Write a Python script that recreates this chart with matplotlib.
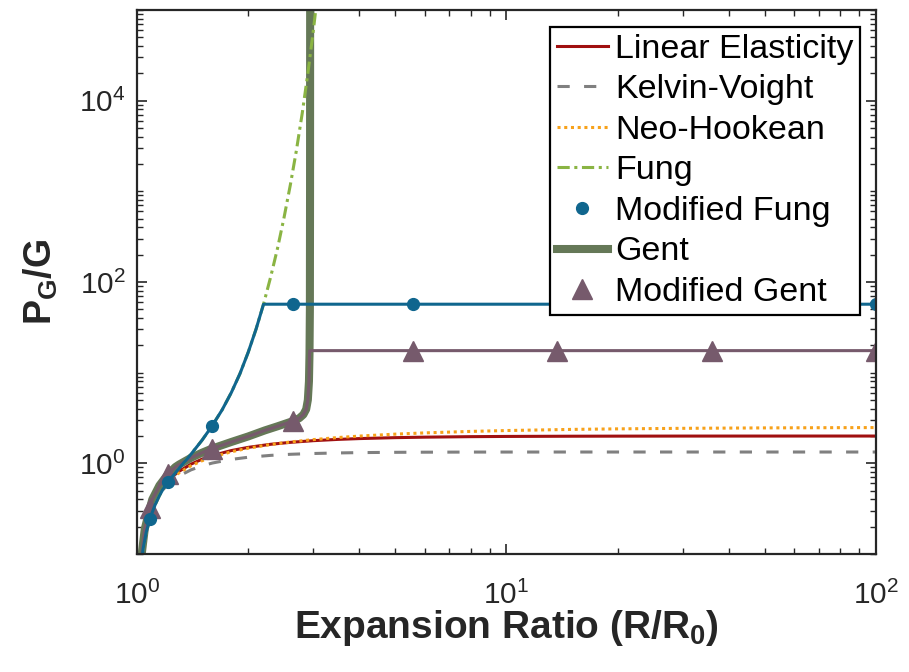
import numpy as np
import matplotlib
matplotlib.use("Agg")
import matplotlib.pyplot as plt
from matplotlib.lines import Line2D
from matplotlib.ticker import LogLocator, NullFormatter

plt.rcParams['font.family'] = 'Liberation Sans'
plt.rcParams['mathtext.fontset'] = 'custom'
plt.rcParams['mathtext.rm'] = 'Liberation Sans'
plt.rcParams['mathtext.it'] = 'Liberation Sans:italic'
plt.rcParams['mathtext.bf'] = 'Liberation Sans:bold'

# ---- expansion ratio grid for the smooth elastic models ----
lam = [1.01, 1.02, 1.03, 1.05, 1.07, 1.1, 1.15, 1.2, 1.25, 1.3, 1.4, 1.5, 1.6,
       1.8, 2.0, 2.3, 2.6, 3.0, 3.5, 4.0, 5.0, 6.0, 8.0, 10, 15, 20, 30, 50, 70, 100]

linear = [0.040, 0.078, 0.115, 0.186, 0.253, 0.347, 0.488, 0.611, 0.720, 0.817,
          0.980, 1.111, 1.219, 1.383, 1.500, 1.622, 1.704, 1.778, 1.837, 1.875,
          1.920, 1.944, 1.969, 1.980, 1.991, 1.995, 1.998, 1.999, 2.0, 2.0]

kelvin = [0.039, 0.077, 0.113, 0.182, 0.245, 0.332, 0.457, 0.562, 0.651, 0.726,
          0.847, 0.938, 1.008, 1.105, 1.167, 1.224, 1.258, 1.284, 1.302, 1.313,
          1.323, 1.327, 1.331, 1.332, 1.333, 1.333, 1.333, 1.333, 1.333, 1.333]

neo = [0.039, 0.077, 0.114, 0.184, 0.249, 0.340, 0.475, 0.592, 0.695, 0.786,
       0.941, 1.068, 1.174, 1.341, 1.469, 1.613, 1.720, 1.827, 1.925, 1.998,
       2.099, 2.166, 2.250, 2.300, 2.367, 2.400, 2.433, 2.460, 2.471, 2.480]

# Fung (unbounded) and modified Fung (capped)
fung_lam = [1.02, 1.03, 1.04, 1.06, 1.084, 1.12, 1.15, 1.2, 1.228, 1.3, 1.4, 1.5,
            1.593, 1.7, 1.8, 1.9, 2.0, 2.1, 2.2, 2.3, 2.4, 2.5, 2.6, 2.7, 2.8,
            2.9, 3.0, 3.05]
fung = [0.058, 0.088, 0.117, 0.176, 0.246, 0.35, 0.44, 0.60, 0.66, 0.88, 1.26,
        1.80, 2.55, 3.89, 6.03, 9.77, 16.8, 30.2, 56.9, 113.5, 234, 513, 1175,
        2818, 7244, 19950, 58900, 104700]

mfung_lam = [1.02, 1.03, 1.04, 1.06, 1.084, 1.12, 1.15, 1.2, 1.228, 1.3, 1.4, 1.5,
             1.593, 1.7, 1.8, 1.9, 2.0, 2.1, 2.2, 100]
mfung = [0.058, 0.088, 0.117, 0.176, 0.246, 0.35, 0.44, 0.60, 0.66, 0.88, 1.26,
         1.80, 2.55, 3.89, 6.03, 9.77, 16.8, 30.2, 56.9, 56.9]

# Gent (locks up near R/R0 ~ 2.94) and modified Gent (capped)
gent_lam = [1.02, 1.03, 1.05, 1.084, 1.1, 1.15, 1.213, 1.27, 1.3, 1.4, 1.5, 1.593,
            1.8, 2.0, 2.22, 2.4, 2.64, 2.75, 2.82, 2.87, 2.90, 2.92, 2.93, 2.937,
            2.94, 2.942]
gent = [0.065, 0.10, 0.19, 0.32, 0.40, 0.57, 0.76, 0.91, 0.97, 1.15, 1.31, 1.45,
        1.72, 1.98, 2.31, 2.56, 2.92, 3.15, 3.45, 3.95, 5.0, 8.0, 16.0, 50.0,
        1000.0, 200000.0]

mgent_lam = [1.02, 1.03, 1.05, 1.084, 1.1, 1.15, 1.213, 1.27, 1.3, 1.4, 1.5, 1.593,
             1.8, 2.0, 2.22, 2.4, 2.64, 2.75, 2.82, 2.87, 2.90, 2.92, 2.93, 2.935, 100]
mgent = [0.065, 0.10, 0.19, 0.32, 0.40, 0.57, 0.76, 0.91, 0.97, 1.15, 1.31, 1.45,
         1.72, 1.98, 2.31, 2.56, 2.92, 3.15, 3.45, 3.95, 5.0, 8.0, 16.0, 17.5, 17.5]

# marker positions shared by the two modified models
mark_lam = [1.084, 1.213, 1.593, 2.64, 5.57, 13.7, 36.0, 100.0]
mfung_mark = [0.246, 0.63, 2.55, 56.9, 56.9, 56.9, 56.9, 56.9]
mgent_mark = [0.32, 0.76, 1.45, 2.92, 17.5, 17.5, 17.5, 17.5]

c_lin = '#A01010'
c_kv = '#808080'
c_neo = '#F7A11A'
c_fung = '#8AB443'
c_mfung = '#10668E'
c_gent = '#657857'
c_mgent = '#765A6C'
c_ax = '#262626'

lw = 2.2
kv_dash = (4.0, 4.7)
neo_dash = (1.0, 1.2)
fung_dash = (4.0, 1.5, 1.0, 1.5)
gent_lw = 5.8

fig = plt.figure(figsize=(9.09, 6.72), dpi=100)
ax = fig.add_axes([0.1507, 0.1756, 0.8130, 0.8095])

ax.plot(lam, kelvin, color=c_kv, lw=lw, dashes=kv_dash)
ax.plot(lam, linear, color=c_lin, lw=lw)
ax.plot(lam, neo, color=c_neo, lw=lw, dashes=neo_dash)
ax.plot(gent_lam, gent, color=c_gent, lw=gent_lw, solid_joinstyle='round')
ax.plot(fung_lam, fung, color=c_fung, lw=lw, dashes=fung_dash)
ax.plot(mgent_lam, mgent, color=c_mgent, lw=lw)
ax.plot(mark_lam, mgent_mark, ls='none', marker='^', ms=14, color=c_mgent)
ax.plot(mfung_lam, mfung, color=c_mfung, lw=lw)
ax.plot(mark_lam, mfung_mark, ls='none', marker='o', ms=8.5, color=c_mfung)

ax.set_xscale('log')
ax.set_yscale('log')
ax.set_xlim(1, 100)
ax.set_ylim(0.1, 1e5)

ax.set_yticks([1e0, 1e2, 1e4])
ax.yaxis.set_minor_locator(LogLocator(base=10, subs=np.arange(1, 10), numticks=20))
ax.yaxis.set_minor_formatter(NullFormatter())
ax.xaxis.set_minor_locator(LogLocator(base=10, subs=np.arange(2, 10), numticks=20))
ax.xaxis.set_minor_formatter(NullFormatter())

ax.tick_params(which='both', direction='in', top=True, right=True, colors=c_ax,
               labelsize=21.5, labelcolor=c_ax)
ax.tick_params(which='major', length=7, width=1.2)
ax.tick_params(which='minor', length=4, width=1.0)
ax.tick_params(axis='x', pad=19)
ax.tick_params(axis='y', pad=8)
for s in ax.spines.values():
    s.set_linewidth(1.6)
    s.set_color(c_ax)

ax.set_xlabel('Expansion Ratio (R/R$_\\mathbf{0}$)', fontsize=28,
              fontweight='bold', color=c_ax, labelpad=-1)
ax.set_ylabel(r'$\mathbf{P_G/G}$', fontsize=27, color=c_ax, labelpad=14)

handles = [
    Line2D([], [], color=c_lin, lw=lw),
    Line2D([], [], color=c_kv, lw=lw, dashes=kv_dash),
    Line2D([], [], color=c_neo, lw=lw, dashes=neo_dash),
    Line2D([], [], color=c_fung, lw=lw, dashes=fung_dash),
    Line2D([], [], ls='none', marker='o', ms=8.5, color=c_mfung),
    Line2D([], [], color=c_gent, lw=gent_lw),
    Line2D([], [], ls='none', marker='^', ms=14, color=c_mgent),
]
labels = ['Linear Elasticity', 'Kelvin-Voight', 'Neo-Hookean', 'Fung',
          'Modified Fung', 'Gent', 'Modified Gent']
leg = ax.legend(handles, labels, loc='upper right',
                bbox_to_anchor=(860 / 909, 1 - 27 / 672),
                bbox_transform=fig.transFigure, fontsize=24.5,
                frameon=True, fancybox=False, framealpha=1, edgecolor='#000000',
                borderpad=0.2, labelspacing=0.28, handlelength=1.5,
                handletextpad=0.2, borderaxespad=0)
leg.get_frame().set_linewidth(1.6)

fig.savefig('out.png', dpi=100)
